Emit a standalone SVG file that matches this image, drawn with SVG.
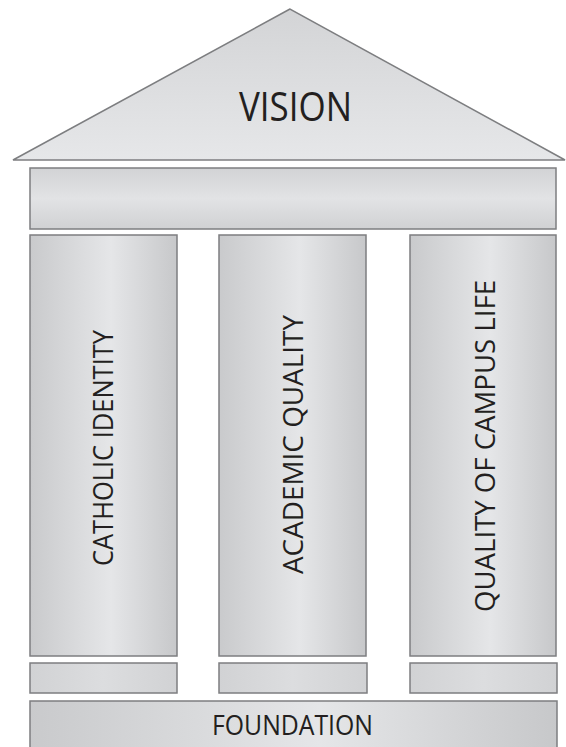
<svg xmlns="http://www.w3.org/2000/svg" width="566" height="747" viewBox="0 0 566 747">
  <style>
    .part { stroke: #7d7e80; stroke-width: 1.5; }
    .label { font-family: "Open Sans", "Liberation Sans", sans-serif; fill: #231f20; text-anchor: middle; }
  </style>
  <defs>
    <!-- cylindrical shading across shafts and foundation -->
    <linearGradient id="shaft" x1="0" y1="0" x2="1" y2="0">
      <stop offset="0" stop-color="#c9cacc"/>
      <stop offset="0.55" stop-color="#e5e6e8"/>
      <stop offset="1" stop-color="#c7c8ca"/>
    </linearGradient>
    <linearGradient id="roof" x1="0" y1="0" x2="0" y2="1">
      <stop offset="0" stop-color="#d3d4d6"/>
      <stop offset="1" stop-color="#e6e7e9"/>
    </linearGradient>
    <linearGradient id="beam" x1="0" y1="0" x2="0" y2="1">
      <stop offset="0" stop-color="#d2d3d5"/>
      <stop offset="0.5" stop-color="#e2e3e5"/>
      <stop offset="1" stop-color="#d0d1d3"/>
    </linearGradient>
    <linearGradient id="plinth" x1="0" y1="0" x2="1" y2="0">
      <stop offset="0" stop-color="#d1d2d4"/>
      <stop offset="0.5" stop-color="#dcdddf"/>
      <stop offset="1" stop-color="#d1d2d4"/>
    </linearGradient>
  </defs>

  <!-- pediment -->
  <g id="vision">
    <polygon class="part" points="290,9 13,160 565,160" fill="url(#roof)" stroke-width="1.2"/>
    <text class="label" x="295.5" y="121" font-size="40" textLength="113" lengthAdjust="spacingAndGlyphs">VISION</text>
  </g>

  <!-- entablature -->
  <g id="entablature">
    <rect class="part" x="30" y="168" width="526" height="61" fill="url(#beam)"/>
  </g>

  <!-- column shafts -->
  <g id="catholic-identity">
    <rect class="part" x="30" y="235" width="147" height="421" fill="url(#shaft)"/>
    <text class="label" transform="translate(103,448) rotate(-90)" y="10" font-size="28" textLength="236" lengthAdjust="spacingAndGlyphs">CATHOLIC IDENTITY</text>
  </g>
  <g id="academic-quality">
    <rect class="part" x="219" y="235" width="147" height="421" fill="url(#shaft)"/>
    <text class="label" transform="translate(293,444.5) rotate(-90)" y="10" font-size="28" textLength="259" lengthAdjust="spacingAndGlyphs">ACADEMIC QUALITY</text>
  </g>
  <g id="campus-life">
    <rect class="part" x="410" y="235" width="146" height="421" fill="url(#shaft)"/>
    <text class="label" transform="translate(485,446) rotate(-90)" y="10" font-size="28" textLength="332" lengthAdjust="spacingAndGlyphs">QUALITY OF CAMPUS LIFE</text>
  </g>

  <!-- column bases -->
  <g id="base-1">
    <rect class="part" x="30" y="663" width="147" height="30" fill="url(#plinth)"/>
  </g>
  <g id="base-2">
    <rect class="part" x="219" y="663" width="148" height="30" fill="url(#plinth)"/>
  </g>
  <g id="base-3">
    <rect class="part" x="410" y="663" width="147" height="30" fill="url(#plinth)"/>
  </g>

  <!-- foundation -->
  <g id="foundation">
    <rect class="part" x="30" y="701" width="527" height="50" fill="url(#shaft)"/>
    <text class="label" x="292.5" y="735" font-size="28" textLength="161" lengthAdjust="spacingAndGlyphs">FOUNDATION</text>
  </g>

  <g id="connectors"/>
</svg>
